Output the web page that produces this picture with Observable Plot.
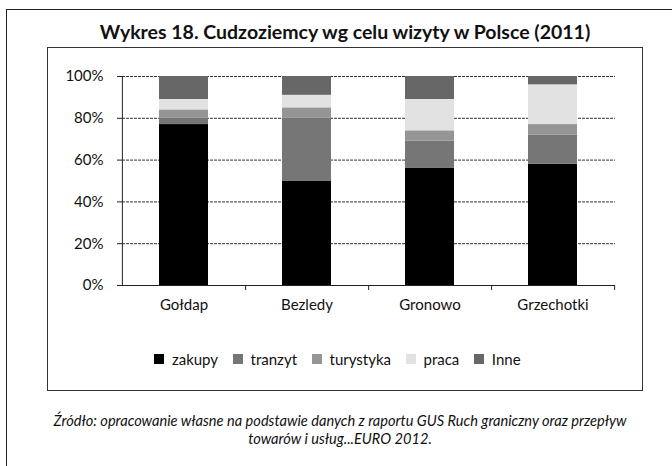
<!DOCTYPE html>
<html>
<head>
<meta charset="utf-8">
<script src="https://cdn.jsdelivr.net/npm/d3@7"></script>
<script src="https://cdn.jsdelivr.net/npm/@observablehq/plot@0.6"></script>
<style>
  html, body { margin: 0; padding: 0; background: #fff; }
  #page { position: relative; width: 672px; height: 466px; overflow: hidden; font-family: Lato, "Open Sans", sans-serif; color: #111; }
  #outerTop { position: absolute; left: 7px; top: 9px; width: 680px; height: 0; border-top: 1.5px solid #222; }
  #outerLeft { position: absolute; left: 6px; top: 9px; width: 0; height: 470px; border-left: 1.5px solid #222; }
  #box { position: absolute; left: 47px; top: 47px; width: 596px; height: 344px; border: 1px solid #333; box-sizing: border-box; }
  #title { position: absolute; left: 0; width: 690px; top: 20px; text-align: center; font-weight: bold; font-size: 19.5px; }
  #chart { position: absolute; left: 0; top: 47px; }
  #legend { position: absolute; left: 0; width: 690px; top: 342px; display: flex; justify-content: center; }
  #caption { position: absolute; left: 0; width: 680px; top: 412px; text-align: center; font-style: italic; font-size: 14.6px; line-height: 18px; }
</style>
</head>
<body>
<div id="page">
  <div id="outerTop"></div>
  <div id="outerLeft"></div>
  <div id="box"></div>
  <div id="title"></div>
  <div id="chart"></div>
  <div id="legend"></div>
  <div id="caption"></div>
</div>
<script>
const titleText = "Wykres 18. Cudzoziemcy wg celu wizyty w Polsce (2011)";
const captionLines = [
  "Źródło: opracowanie własne na podstawie danych z raportu GUS Ruch graniczny oraz przepływ",
  "towarów i usług...EURO 2012."
];
const categories = ["Gołdap", "Bezledy", "Gronowo", "Grzechotki"];
const series = ["zakupy", "tranzyt", "turystyka", "praca", "Inne"];
const zakupy    = [77, 50, 56, 58];
const tranzyt   = [3, 30, 13, 14];
const turystyka = [4, 5, 5, 5];
const praca     = [5, 6, 15, 19];
const inne      = [11, 9, 11, 4];
const yTicks = [0, 0.2, 0.4, 0.6, 0.8, 1];
const colors = ["#000000", "#767676", "#959595", "#e2e2e2", "#676767"];

const seriesValues = [zakupy, tranzyt, turystyka, praca, inne];
const rows = [];
categories.forEach((c, i) => {
  const total = d3.sum(seriesValues, s => s[i]);
  series.forEach((s, j) => rows.push({category: c, series: s, value: seriesValues[j][i] / total}));
});

document.getElementById("title").textContent = titleText;
document.getElementById("caption").innerHTML = captionLines.map(l => `<div>${l}</div>`).join("");

const W = 672, H = 290, mL = 122, mR = 57;
const step = (W - mL - mR) / categories.length;

const plot = Plot.plot({
  width: W,
  height: H,
  marginTop: 29,
  marginBottom: 52,
  marginLeft: mL,
  marginRight: mR,
  style: {fontFamily: "Lato, 'Open Sans', sans-serif", fontSize: "15px", color: "#111", background: "transparent"},
  x: {domain: categories, paddingInner: 0.6, paddingOuter: 0.3, label: null},
  y: {domain: [0, 1], label: null},
  color: {domain: series, range: colors},
  marks: [
    Plot.ruleY(yTicks.filter(d => d > 0), {stroke: "#333", strokeWidth: 1, strokeDasharray: "3,1"}),
    Plot.barY(rows, {x: "category", y: "value", fill: "series", order: series}),
    Plot.ruleY([0], {stroke: "#222", strokeWidth: 1}),
    Plot.ruleX([categories[0]], {dx: -step / 2, y1: 0, y2: 1, stroke: "#222"}),
    Plot.ruleX(categories, {dx: step / 2, y1: 0, y2: 0, insetBottom: -5, stroke: "#222"}),
    Plot.axisY({ticks: yTicks, tickFormat: d3.format(".0%"), tickSize: 5, tickPadding: 14, fontSize: 15, stroke: "#222"}),
    Plot.axisX({tickSize: 0, tickPadding: 14, fontSize: 15})
  ]
});
document.getElementById("chart").appendChild(plot);

const legend = plot.legend("color", {
  legend: "swatches",
  swatchSize: 10,
  style: {fontFamily: "Lato, 'Open Sans', sans-serif", fontSize: "15px", color: "#111", marginLeft: "0px"}
});
document.getElementById("legend").appendChild(legend);
</script>
</body>
</html>
